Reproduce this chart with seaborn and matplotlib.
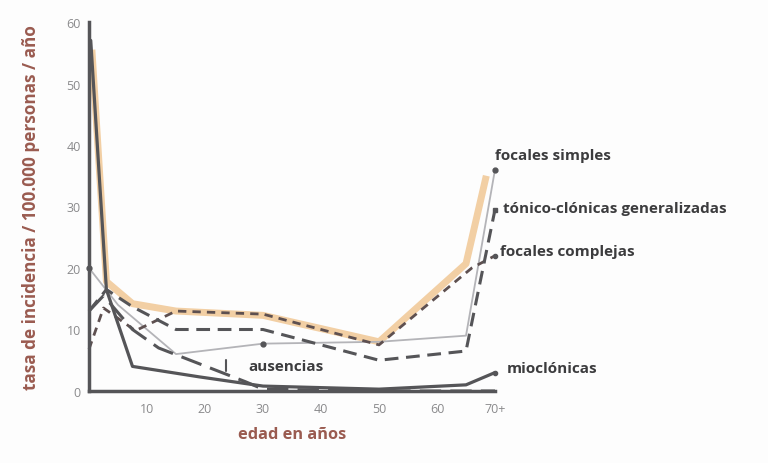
import numpy as np
import pandas as pd
import matplotlib
matplotlib.use("Agg")
import matplotlib.pyplot as plt
import seaborn as sns

# --- datos (tasa / 100.000 personas / año) ---
edad_banda = [0.5, 3, 7.5, 15, 30, 50, 65, 68.5]
tasa_banda = [55.5, 17.8, 14.2, 13, 12.3, 8, 20.7, 35]

edad_mio = [0.3, 3, 7.5, 19, 30, 50, 65, 70]
tasa_mio = [57, 16.5, 4, 2.3, 0.8, 0.3, 1, 3]

edad_tonico = [0, 3, 7.5, 15, 30, 50, 65, 70]
tasa_tonico = [13, 16.5, 13.7, 10, 10, 5, 6.5, 29.5]

edad_complejas = [0, 2.5, 8, 15, 30, 50, 66, 70]
tasa_complejas = [6.8, 13.5, 9.8, 13, 12.5, 7.5, 20, 22]

edad_simples = [0, 5, 15, 30, 50, 65, 70]
tasa_simples = [20, 14, 6, 7.7, 8, 9, 36]

edad_ausencias = [0, 2.5, 7.5, 12, 27, 30, 50, 70]
tasa_ausencias = [13, 15.5, 10, 7, 1.5, 0.3, 0, 0]

xticks = [10, 20, 30, 40, 50, 60, 70]
xtick_labels = ["10", "20", "30", "40", "50", "60", "70+"]
yticks = [0, 10, 20, 30, 40, 50, 60]

# --- estilo ---
sns.set_theme(style="white")
plt.rcParams['font.family'] = ['Open Sans', 'DejaVu Sans']

GRIS = "#555558"
GRIS_CLARO = "#b4b4b8"
MARRON = "#9a5b50"
TEXTO = "#3c3c3e"

fig = plt.figure(figsize=(7.68, 4.64), dpi=100)
fig.patch.set_facecolor("#fdfdfd")
ax = fig.add_axes([89 / 768, 72 / 464, 406 / 768, 369 / 464])
ax.set_facecolor("#fdfdfd")

def serie(edad, tasa):
    return pd.DataFrame({"edad": edad, "tasa": tasa})

# banda naranja resaltada
sns.lineplot(data=serie(edad_banda, tasa_banda), x="edad", y="tasa", ax=ax,
             color="#f2cfa4", linewidth=5, sort=False, solid_capstyle="butt")

# focales simples (línea fina clara con puntos)
sns.lineplot(data=serie(edad_simples, tasa_simples), x="edad", y="tasa", ax=ax,
             color=GRIS_CLARO, linewidth=1.3, sort=False)
ax.plot([edad_simples[0], edad_simples[3], edad_simples[-1]],
        [tasa_simples[0], tasa_simples[3], tasa_simples[-1]],
        "o", color=GRIS, markersize=3.5, clip_on=False)

# focales complejas (guiones finos)
sns.lineplot(data=serie(edad_complejas, tasa_complejas), x="edad", y="tasa", ax=ax,
             color="#5e5050", linewidth=2, sort=False)
ax.lines[-1].set_dashes([3, 2.2])
ax.plot([edad_complejas[-1]], [tasa_complejas[-1]], "o", color=GRIS, markersize=3, clip_on=False)

# tónico-clónicas generalizadas (guiones)
sns.lineplot(data=serie(edad_tonico, tasa_tonico), x="edad", y="tasa", ax=ax,
             color=GRIS, linewidth=2.2, sort=False)
ax.lines[-1].set_dashes([4.5, 2.5])
ax.plot([edad_tonico[-1]], [tasa_tonico[-1]], "s", color=GRIS, markersize=3, clip_on=False)

# ausencias (guiones largos)
sns.lineplot(data=serie(edad_ausencias, tasa_ausencias), x="edad", y="tasa", ax=ax,
             color=GRIS, linewidth=2.2, sort=False)
ax.lines[-1].set_dashes([7, 3])

# mioclónicas (línea continua oscura)
sns.lineplot(data=serie(edad_mio, tasa_mio), x="edad", y="tasa", ax=ax,
             color=GRIS, linewidth=2.3, sort=False)
ax.plot([edad_mio[-1]], [tasa_mio[-1]], "o", color=GRIS, markersize=3, clip_on=False)

for ln in ax.lines:
    ln.set_clip_on(False)

# --- ejes ---
ax.set_xlim(0, 70)
ax.set_ylim(0, 60)
ax.set_xticks(xticks)
ax.set_xticklabels(xtick_labels)
ax.set_yticks(yticks)
ax.tick_params(axis="both", labelsize=9, colors="#8a8a8c", length=3, width=1, direction="out")
ax.tick_params(axis="x", length=0, pad=8)
ax.tick_params(axis="y", pad=3)
sns.despine(ax=ax)
for s in ["left", "bottom"]:
    ax.spines[s].set_color(GRIS)
    ax.spines[s].set_linewidth(2.5)

ax.set_ylabel("tasa de incidencia / 100.000 personas / año", color=MARRON,
              fontsize=12.3, fontweight="bold")
ax.yaxis.set_label_coords(-0.12, 0.5)
ax.set_xlabel("edad en años", color=MARRON, fontsize=11.8, fontweight="bold")
ax.xaxis.set_label_coords(0.5, -0.095)

# --- etiquetas de las series ---
etiquetas = [
    ("focales simples", 70.0, 38.4),
    ("tónico-clónicas generalizadas", 71.3, 29.8),
    ("focales complejas", 70.9, 22.7),
    ("mioclónicas", 72.0, 3.7),
    ("ausencias", 27.5, 4.1),
]
for texto, x, y in etiquetas:
    ax.text(x, y, texto, fontsize=11, fontweight="bold", color=TEXTO,
            va="center", ha="left", clip_on=False)
ax.plot([23.6, 23.6], [3.2, 5.0], color=GRIS, linewidth=1.5)

fig.savefig("out.png", dpi=100, facecolor=fig.get_facecolor())
